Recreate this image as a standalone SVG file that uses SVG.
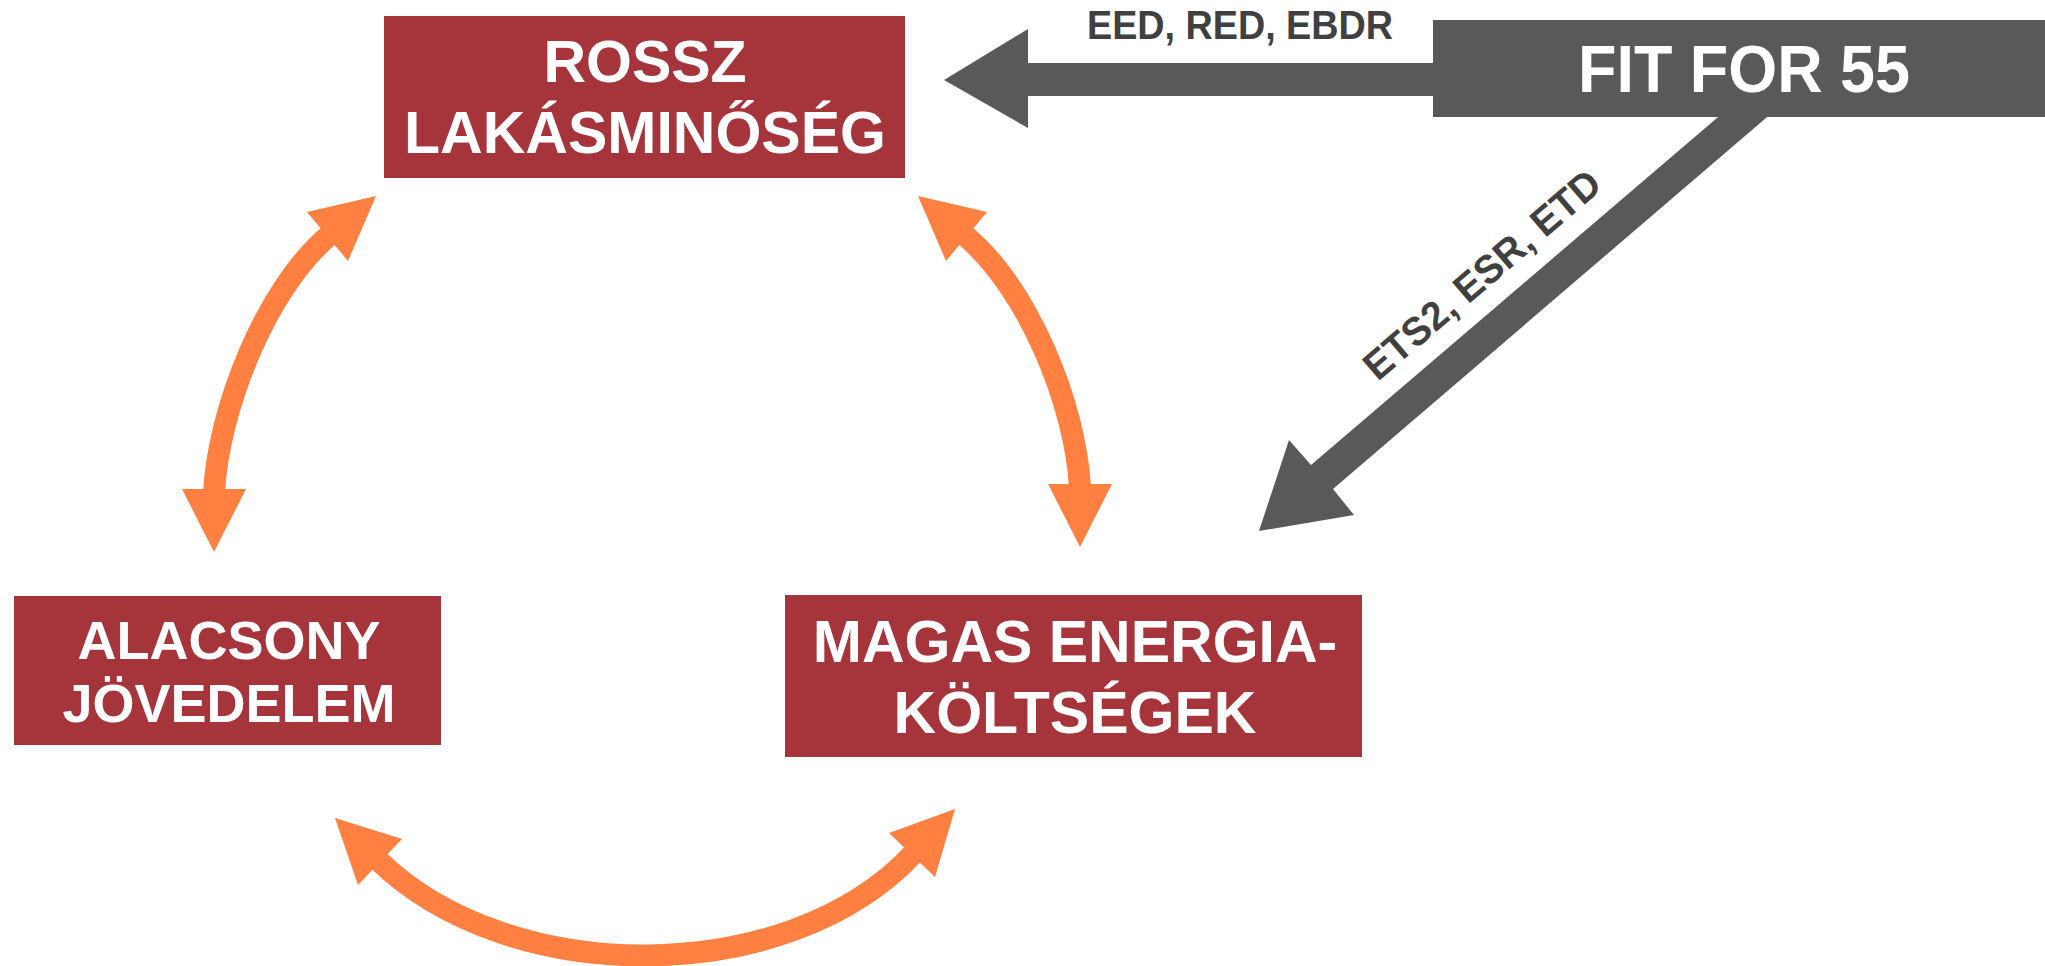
<svg xmlns="http://www.w3.org/2000/svg" width="2045" height="966" viewBox="0 0 2045 966">
  <style>
    .box { fill: #A6353B; }
    .boxtxt { font-family: "Liberation Sans", Arial, sans-serif; font-weight: bold; fill: #FFFFFF; text-anchor: middle; }
    .arc { fill: none; stroke: #FF8040; stroke-width: 22; }
    .ohead { fill: #FF8040; }
    .grey { fill: #595959; }
    .lbl { font-family: "Liberation Sans", Arial, sans-serif; font-weight: bold; fill: #404040; font-size: 40px; }
  </style>

  <g id="connectors">
    <!-- orange cycle arrows -->
    <path class="arc" d="M214,493 C218.3,409 266.1,287.8 330,234.6"/>
    <polygon class="ohead" points="182,489 246,489 214,552"/>
    <polygon class="ohead" points="376,196 307,212 348,261"/>

    <path class="arc" d="M1080,488 C1075.7,404 1027.9,287.8 964,234.6"/>
    <polygon class="ohead" points="1048,484 1112,484 1080,547"/>
    <polygon class="ohead" points="918,196 987,212 946,261"/>

    <path class="arc" d="M378,860 C509.6,988.7 787.7,987.8 913,854"/>
    <polygon class="ohead" points="335,818 402,839 358,885"/>
    <polygon class="ohead" points="955,809 889,833 935,877"/>

    <!-- grey policy arrows -->
    <polygon class="grey" points="944,80 1028,29 1028,63 1440,63 1440,96 1028,96 1028,128"/>
    <polygon class="grey" points="1738,100 1311,465 1289,440 1259,531 1354,515 1333,489 1787,100"/>
    <text class="lbl" x="1087" y="39" textLength="306" lengthAdjust="spacingAndGlyphs">EED, RED, EBDR</text>
    <text class="lbl" text-anchor="middle" transform="translate(1491,285) rotate(-40.6)" x="0" y="0" textLength="298" lengthAdjust="spacingAndGlyphs">ETS2, ESR, ETD</text>
  </g>

  <g id="node-fit55">
    <rect class="grey" x="1433" y="20" width="612" height="97"/>
    <text x="1744" y="92" font-family="'Liberation Sans', Arial, sans-serif" font-weight="bold" font-size="66" fill="#FFFFFF" text-anchor="middle" textLength="332" lengthAdjust="spacingAndGlyphs">FIT FOR 55</text>
  </g>

  <g id="node-rossz">
    <rect class="box" x="384" y="16" width="521" height="162"/>
    <text class="boxtxt" font-size="59" x="645" y="82">ROSSZ</text>
    <text class="boxtxt" font-size="59" x="645" y="153">LAKÁSMINŐSÉG</text>
  </g>

  <g id="node-alacsony">
    <rect class="box" x="14" y="596" width="427" height="149"/>
    <text class="boxtxt" font-size="54" x="229" y="659">ALACSONY</text>
    <text class="boxtxt" font-size="54" x="229" y="722">JÖVEDELEM</text>
  </g>

  <g id="node-magas">
    <rect class="box" x="785" y="595" width="577" height="162"/>
    <text class="boxtxt" font-size="59" x="1075" y="662">MAGAS ENERGIA-</text>
    <text class="boxtxt" font-size="59" x="1075" y="733">KÖLTSÉGEK</text>
  </g>
</svg>
